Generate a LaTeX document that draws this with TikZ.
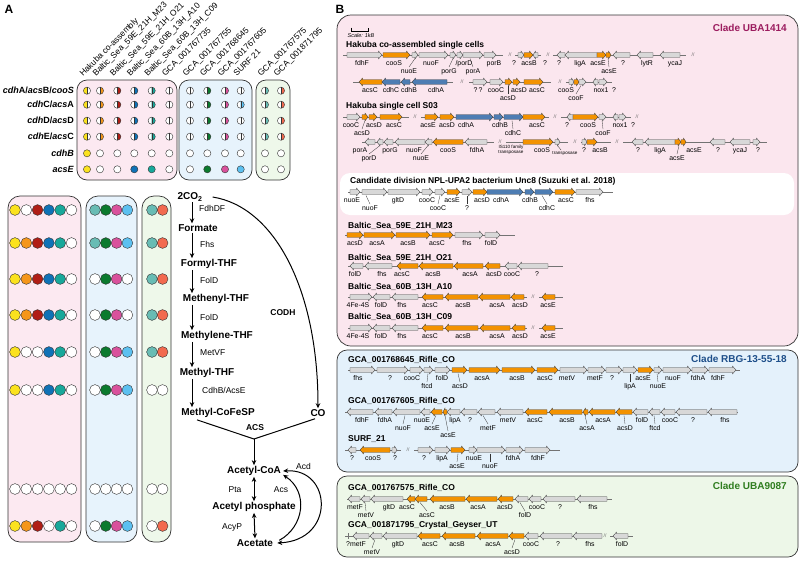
\documentclass[tikz,border=0pt]{standalone}
\usepackage{fontspec}
\setmainfont{Liberation Sans}
\usetikzlibrary{arrows.meta,calc}
\definecolor{cY}{HTML}{FBE21E}
\definecolor{cO}{HTML}{F5961A}
\definecolor{cR}{HTML}{B01E16}
\definecolor{cB}{HTML}{0F72B6}
\definecolor{cT}{HTML}{17A89A}
\definecolor{cG}{HTML}{0B7A2E}
\definecolor{cP}{HTML}{D9519C}
\definecolor{cLB}{HTML}{5CC0F0}
\definecolor{cMT}{HTML}{68BCB4}
\definecolor{cS}{HTML}{F26A4F}
\definecolor{W}{HTML}{FFFFFF}
\definecolor{gG}{HTML}{D8D8D8}
\definecolor{gO}{HTML}{F39200}
\definecolor{gB}{HTML}{4D7DB3}
\definecolor{pkA}{HTML}{FCE9F1}
\definecolor{blA}{HTML}{E7F3FC}
\definecolor{grA}{HTML}{EEF8EA}
\definecolor{pkB}{HTML}{FBE6EE}
\definecolor{blB}{HTML}{E4F1FB}
\definecolor{grB}{HTML}{EDF7E8}
\definecolor{clP}{HTML}{9B1B5E}
\definecolor{clB}{HTML}{1E4F8A}
\definecolor{clG}{HTML}{2F7D1F}
\newcounter{nn}
\def\TY{0}
\newcommand\geneR[3]{\pgfmathsetmacro\ghl{min(3.5,0.5*(#2-#1))}%
 \draw[gene,fill=#3] ({#1},{\TY-2.3}) -- ({#2-\ghl},{\TY-2.3}) -- ({#2-\ghl},{\TY-3.9}) -- ({#2},{\TY}) -- ({#2-\ghl},{\TY+3.9}) -- ({#2-\ghl},{\TY+2.3}) -- ({#1},{\TY+2.3}) -- cycle;}
\newcommand\geneL[3]{\pgfmathsetmacro\ghl{min(3.5,0.5*(#2-#1))}%
 \draw[gene,fill=#3] ({#2},{\TY-2.3}) -- ({#1+\ghl},{\TY-2.3}) -- ({#1+\ghl},{\TY-3.9}) -- ({#1},{\TY}) -- ({#1+\ghl},{\TY+3.9}) -- ({#1+\ghl},{\TY+2.3}) -- ({#2},{\TY+2.3}) -- cycle;}
\newcommand\bbone[2]{\draw[bbl] ({#1},{\TY}) -- ({#2},{\TY});}
\newcommand\gbrk[1]{\stepcounter{nn}\node[brk] (b\arabic{nn}) at ({#1},{\TY}) {//};}
\newcommand\Lab[3]{\stepcounter{nn}\node[glab] (g\arabic{nn}) at ({#1},{\TY+#2}) {#3};}
\newcommand\gla[2]{\Lab{#1}{10.5}{#2}}
\newcommand\glb[2]{\Lab{#1}{18}{#2}}
\newcommand\glbt[3]{\draw[tickl] ({#1},{\TY+3.5}) -- ({#2},{\TY+12});\Lab{#2}{18}{#3}}
\newcommand\hcirc[4]{%
 \begin{scope}\clip ({#1-4},{#2-4}) rectangle ({#1},{#2+4}); \fill[#3] ({#1},{#2}) circle[radius=3.6]; \end{scope}
 \begin{scope}\clip ({#1},{#2-4}) rectangle ({#1+4},{#2+4}); \fill[#4] ({#1},{#2}) circle[radius=3.6]; \end{scope}
 \draw[circ] ({#1},{#2}) circle[radius=3.6]; \draw[circ] ({#1},{#2-3.6}) -- ({#1},{#2+3.6});}
\newcommand\fcirc[4]{\draw[circ,fill=#3] ({#1},{#2}) circle[radius=#4];}
\newcommand\lrow[4]{%
 \foreach \c [count=\i] in {#2} {\fcirc{15+(\i-1)*11.3}{#1}{\c}{5.4}}
 \foreach \c [count=\i] in {#3} {\fcirc{95+(\i-1)*10.8}{#1}{\c}{5.4}}
 \foreach \c [count=\i] in {#4} {\fcirc{152+(\i-1)*10.6}{#1}{\c}{5.4}}}
\tikzset{
 gene/.style={draw=black!75,line width=0.35pt},
 bbl/.style={draw=black!55,line width=0.45pt},
 tickl/.style={draw=black!80,line width=0.3pt},
 glab/.style={font=\fontsize{6.9}{7.2}\selectfont,inner sep=0pt,anchor=base},
 ttl/.style={font=\bfseries\fontsize{8.5}{9}\selectfont,inner sep=0pt,anchor=base west},
 brk/.style={font=\fontsize{5}{5}\selectfont,text=black!60,inner sep=0pt},
 clbox/.style={draw=black!80,line width=0.7pt,rounded corners=10pt},
 clade/.style={font=\bfseries\fontsize{10}{11}\selectfont,inner sep=0pt,anchor=east},
 met/.style={font=\bfseries\fontsize{10}{11}\selectfont,inner sep=1pt},
 enz/.style={font=\fontsize{8.5}{9}\selectfont,inner sep=0pt,anchor=west},
 enzc/.style={font=\fontsize{8.5}{9}\selectfont,inner sep=0pt},
 parr/.style={line width=1pt,-{Stealth[length=5pt,width=4.5pt]}},
 parr2/.style={line width=1pt,{Stealth[length=5pt,width=4.5pt]}-{Stealth[length=5pt,width=4.5pt]}},
 circ/.style={draw=black!80,line width=0.4pt},
 rowl/.style={font=\bfseries\fontsize{9}{10}\selectfont,inner sep=0pt,anchor=east},
 coll/.style={font=\fontsize{8.4}{9}\selectfont,inner sep=0pt,anchor=base west,rotate=45},
 panel/.style={font=\bfseries\fontsize{12}{12}\selectfont,inner sep=0pt},
}
\begin{document}
\begin{tikzpicture}[x=1pt,y=-1pt]
\useasboundingbox (0,0) rectangle (800,560);
\fill[white] (0,0) rectangle (800,560);
\node[panel] (pA) at (9,9) {A};
\node[panel] (pB) at (340,9) {B};
% ---------- panel A, top matrix
\draw[clbox,fill=pkA] (77,80) rectangle (177,180);
\draw[clbox,fill=blA] (179,80) rectangle (252,180);
\draw[clbox,fill=grA] (256,80) rectangle (290,180);
\foreach \xx/\t [count=\k] in {87/Hakuba co-assembly,100/Baltic\_Sea\_59E\_21H\_M23,117.3/Baltic\_Sea\_59E\_21H\_O21,134.3/Baltic\_Sea\_60B\_13H\_A10,151.7/Baltic\_Sea\_60B\_13H\_C09,169.3/GCA\_001767735,190/GCA\_001767755,207.3/GCA\_001768645,225/GCA\_001767605,240.7/SURF 21,265/GCA\_001767575,281/GCA\_001871795}
  {\node[coll] (col\k) at ({\xx-4},77) {\t};}
\node[rowl] (r1) at (74,90.7) {\textit{cdh}A/\textit{acs}B/\textit{cooS}};
\node[rowl] (r2) at (74,104.7) {\textit{cdh}C/\textit{acs}A};
\node[rowl] (r3) at (74,120.7) {\textit{cdh}D/\textit{acs}D};
\node[rowl] (r4) at (74,136.7) {\textit{cdh}E/\textit{acs}C};
\node[rowl] (r5) at (74,153.3) {\textit{cdhB}};
\node[rowl] (r6) at (74,169.3) {\textit{acsE}};
\foreach \yy [count=\k] in {90.7,104.7,120.7,136.7} {
 \hcirc{87}{\yy}{cY}{W} \hcirc{100}{\yy}{W}{cO} \hcirc{117.3}{\yy}{W}{cR}
 \hcirc{134.3}{\yy}{W}{cB} \hcirc{151.7}{\yy}{W}{cT} \hcirc{169.3}{\yy}{W}{W}
 \hcirc{190}{\yy}{W}{W} \hcirc{207.3}{\yy}{W}{cG} \hcirc{225}{\yy}{W}{cP}
 \hcirc{265}{\yy}{W}{cMT} \hcirc{281}{\yy}{W}{cS}
 \ifnum\k=2 \hcirc{240.7}{\yy}{W}{cLB} \else \hcirc{240.7}{\yy}{W}{W} \fi}
\foreach \xx/\c in {87/cY,100/W,117.3/W,134.3/W,151.7/W,169.3/W,190/W,207.3/W,225/W,240.7/W,265/W,281/W} {\fcirc{\xx}{153.3}{\c}{3.6}}
\foreach \xx/\c in {87/cY,100/W,117.3/W,134.3/cB,151.7/cT,169.3/W,190/W,207.3/cG,225/cP,240.7/cLB,265/W,281/W} {\fcirc{\xx}{169.3}{\c}{3.6}}
% ---------- panel A, lower matrix
\draw[clbox,fill=pkA,rounded corners=12pt] (8,196) rectangle (81,542);
\draw[clbox,fill=blA,rounded corners=12pt] (86,196) rectangle (137,542);
\draw[clbox,fill=grA,rounded corners=12pt] (142,196) rectangle (171,542);
\lrow{210}{cY,W,cR,cB,cT,W}{cMT,cG,cP,cLB}{cMT,cS}
\lrow{243}{cY,cO,cR,cB,cT,W}{cMT,cG,cP,cLB}{cMT,cS}
\lrow{279}{cY,cO,cR,cB,cT,W}{W,cG,cP,W}{cMT,cS}
\lrow{315}{cY,cO,cR,cB,cT,W}{W,cG,cP,W}{cMT,cS}
\lrow{352}{cY,W,W,cB,cT,W}{W,cG,cP,cLB}{cMT,cS}
\lrow{390}{cY,W,W,cB,cT,W}{W,cG,cP,cLB}{W,W}
\lrow{489}{W,W,W,W,W,W}{W,W,W,W}{W,W}
\lrow{526}{cY,cO,cR,W,cT,W}{W,cG,cP,cLB}{W,cS}
% ---------- pathway
\node[met] (co2) at (190,197) {2CO\textsubscript{2}};
\node[met] (formate) at (198,228) {Formate};
\node[met] (formyl) at (209,264) {Formyl-THF};
\node[met] (methenyl) at (216,299) {Methenyl-THF};
\node[met] (methylene) at (217,336) {Methylene-THF};
\node[met] (methyl) at (207,373) {Methyl-THF};
\node[met] (mcofesp) at (218,413) {Methyl-CoFeSP};
\node[met] (co) at (318,413) {CO};
\node[met] (acoa) at (254,471) {Acetyl-CoA};
\node[met] (ap) at (254,507) {Acetyl phosphate};
\node[met] (acet) at (255,543) {Acetate};
\coordinate (ax) at (192,0);
\draw[parr] (co2.south -| ax) -- (formate.north -| ax);
\draw[parr] (formate.south -| ax) -- (formyl.north -| ax);
\draw[parr] (formyl.south -| ax) -- (methenyl.north -| ax);
\draw[parr] (methenyl.south -| ax) -- (methylene.north -| ax);
\draw[parr] (methylene.south -| ax) -- (methyl.north -| ax);
\draw[parr] (methyl.south -| ax) -- (mcofesp.north -| ax);
\node[enz] (e1) at (199,208) {FdhDF};
\node[enz] (e2) at (200,244) {Fhs};
\node[enz] (e3) at (200,280) {FolD};
\node[enz] (e4) at (200,317) {FolD};
\node[enz] (e5) at (200,353) {MetVF};
\node[enz] (e6) at (202,390) {CdhB/AcsE};
\draw[parr] ([xshift=9pt]co2.east) .. controls (275,207) and (318,290) .. (co.north);
\node[font=\bfseries\fontsize{8.5}{9}\selectfont,inner sep=0pt] (codh) at (283,313) {CODH};
\coordinate (acsj) at (254,439);
\draw[line width=1pt] ([xshift=-21pt,yshift=-1pt]mcofesp.south) -- (acsj) -- ([xshift=-3pt,yshift=-1pt]co.south);
\node[font=\bfseries\fontsize{8.5}{9}\selectfont,inner sep=0pt] (acsl) at (255,428) {ACS};
\draw[parr] (acsj) -- (acoa.north);
\draw[parr2] (acoa.south) -- (ap.north);
\draw[parr2] (ap.south) -- (acet.north);
\node[enzc] (pta) at (235,490) {Pta};
\node[enzc] (acyp) at (232,527) {AcyP};
\draw[parr2] ([xshift=1pt]acoa.east) .. controls (332,468) and (336,540) .. ([xshift=3pt]acet.east);
\draw[parr] ([xshift=5pt,yshift=-2pt]acet.north east) .. controls (304,527) and (309,492) .. ([xshift=1pt,yshift=2pt]acoa.south east);
\node[enz] (acd) at (296,466) {Acd};
\node[enzc] (acs) at (281,490) {Acs};
% ---------- panel B boxes
\draw[clbox,fill=pkB,rounded corners=14pt] (337,15) rectangle (798,346);
\fill[white,rounded corners=10pt] (340,173) rectangle (794,215);
\draw[clbox,fill=blB] (337,350) rectangle (798,472);
\draw[clbox,fill=grB] (337,476) rectangle (798,557);
\node[clade,text=clP] (cl1) at (787,28) {Clade UBA1414};
\node[clade,text=clB] (cl2) at (787,359) {Clade RBG-13-55-18};
\node[clade,text=clG] (cl3) at (787,486) {Clade UBA9087};
\draw[line width=0.5pt] (351,27.5) -- (351,31) -- (368,31) -- (368,27.5);
\node[font=\itshape\fontsize{5.5}{6}\selectfont,inner sep=0pt] (scale) at (361,35.5) {Scale: 1kB};
% titles
\node[ttl] (t1) at (346,47) {Hakuba co-assembled single cells};
\node[ttl] (t3) at (346,108) {Hakuba single cell S03};
\node[ttl] (t5) at (350,183) {Candidate division NPL-UPA2 bacterium Unc8 (Suzuki et al. 2018)};
\node[ttl] (t6) at (348,228) {Baltic\_Sea\_59E\_21H\_M23};
\node[ttl] (t7) at (348,260) {Baltic\_Sea\_59E\_21H\_O21};
\node[ttl] (t8) at (348,289) {Baltic\_Sea\_60B\_13H\_A10};
\node[ttl] (t9) at (348,319) {Baltic\_Sea\_60B\_13H\_C09};
\node[ttl] (t10) at (348,362) {GCA\_001768645\_Rifle\_CO};
\node[ttl] (t11) at (348,403) {GCA\_001767605\_Rifle\_CO};
\node[ttl] (t12) at (348,441) {SURF\_21};
\node[ttl] (t13) at (348,490) {GCA\_001767575\_Rifle\_CO};
\node[ttl] (t14) at (348,527) {GCA\_001871795\_Crystal\_Geyser\_UT};
% ---------- T1
\def\TY{55}
\bbone{343}{503}\gbrk{510}\bbone{515}{541}\gbrk{548}\bbone{553}{686}\gbrk{693}
\geneR{347}{382}{gG}\gla{362}{fdhF}
\geneR{383}{410}{gO}\gla{394}{cooS}
\geneR{412}{418}{gG}\glbt{415}{409}{nuoE}
\geneR{419}{448}{gG}\gla{431}{nuoF}
\geneR{450}{456}{gG}\glbt{453}{449}{porG}
\geneR{457}{463}{gG}\gla{464}{/porD}
\geneR{463}{483}{gG}\glbt{470}{473}{porA}
\geneR{484}{496}{gG}\gla{494}{porB}
\geneR{518}{524}{gG}\gla{514}{?}
\geneR{524}{533}{gO}\gla{529}{acsB}
\geneL{533}{538}{gG}\gla{545}{?}
\geneL{557}{565}{gG}\gla{559}{?}
\geneL{565}{597}{gG}\gla{580}{ligA}
\geneR{597}{606}{gO}\geneR{606}{611}{gO}\gla{598}{acsE}\glbt{608}{609}{acsE}
\geneL{613}{630}{gG}\gla{623}{?}
\geneL{637}{653}{gG}\gla{647}{lytR}
\geneL{660}{680}{gG}\gla{675}{ycaJ}
% ---------- T2
\def\TY{82}
\bbone{353}{453}\gbrk{462}\bbone{469}{551}\gbrk{560}\bbone{566}{612}
\geneL{359}{382}{gO}\gla{370}{acsC}
\geneL{382}{400}{gB}\gla{391}{cdhC}
\geneL{401}{410}{gB}\gla{409}{cdhB}
\geneL{412}{447}{gB}\gla{436}{cdhA}
\geneR{473}{487}{gG}\gla{478}{?\,?}
\geneR{490}{503}{gG}\gla{496}{cooC}
\geneR{505}{512}{gO}\glbt{508}{508}{acsD}
\geneR{513}{520}{gO}\gla{519}{acsD}
\geneR{524}{543}{gO}\gla{537}{acsC}
\geneR{569}{574}{gG}\geneR{574}{579}{gO}\geneR{579}{586}{gG}
\gla{566}{cooS}\glbt{581}{576}{cooF}
\geneL{593}{598}{gG}\geneR{599}{607}{gG}\gla{601}{nox1}\gla{614}{?}
% ---------- T3
\def\TY{117}
\bbone{343}{409}\gbrk{415}\bbone{421}{549}\gbrk{555}\bbone{561}{631}\gbrk{637}
\geneR{347}{360}{gG}\gla{351}{cooC}
\geneR{362}{368}{gO}\glbt{365}{362}{acsD}
\geneR{369}{377}{gO}\gla{374}{acsD}
\geneR{380}{402}{gO}\gla{394}{acsC}
\geneR{425}{438}{gO}\gla{428}{acsE}
\geneR{440}{454}{gO}\gla{447}{acsD}
\geneR{456}{493}{gB}\gla{466}{cdhA}
\geneR{494}{503}{gB}\gla{500}{cdhB}
\geneR{504}{523}{gB}\glbt{512}{513}{cdhC}
\geneR{523}{545}{gO}\gla{537}{acsC}
\geneL{567}{573}{gG}\gla{567}{?}
\geneR{573}{598}{gO}\gla{588}{cooS}
\geneR{599}{606}{gG}\glbt{602}{603}{cooF}
\geneL{613}{618}{gG}\geneR{619}{626}{gG}\gla{620}{nox1}\gla{633}{?}
% ---------- T4
\def\TY{142}
\bbone{362}{494}\gbrk{500}\bbone{506}{568}\gbrk{575}\bbone{581}{611}\gbrk{617}\bbone{623}{767}
\geneL{365}{375}{gG}\gla{360}{porA}
\geneL{377}{383}{gG}\glbt{380}{369}{porD}
\geneL{384}{393}{gG}\gla{390}{porG}
\geneL{395}{425}{gG}\gla{414}{nuoF}
\geneL{425}{432}{gG}\glbt{428}{421}{nuoE}
\geneL{433}{463}{gO}\gla{448}{cooS}
\geneL{465}{487}{gG}\gla{477}{fdhA}
\node[font=\fontsize{4.6}{5}\selectfont,align=center,inner sep=0pt] (is1) at (511,150) {IS110 family\\transposase};
\geneR{523}{553}{gO}\gla{542}{cooS}
\geneR{555}{560}{gG}\draw[tickl] (557.5,145.5) -- (561,150);
\node[font=\fontsize{4.6}{5}\selectfont,inner sep=0pt] (is2) at (565,153) {transposase};
\geneR{582}{587}{gG}\geneR{587}{597}{gO}\gla{584}{?}\gla{600}{acsB}
\geneL{632}{643}{gG}\gla{638}{?}
\geneL{645}{675}{gG}\gla{660}{ligA}
\geneR{675}{681}{gO}\geneR{681}{686}{gO}\glbt{679}{677}{acsE}\gla{694}{acsE}
\geneL{710}{725}{gG}\gla{718}{?}
\geneL{730}{750}{gG}\gla{740}{ycaJ}
\geneR{753}{760}{gG}\gla{758}{?}
% ---------- T5
\def\TY{192}
\bbone{348}{613}
\geneR{350}{360}{gG}\gla{352}{nuoE}
\geneR{362}{387}{gG}\glbt{366}{370}{nuoF}
\geneR{388}{420}{gG}\gla{398}{gltD}
\geneR{422}{433}{gG}\gla{427}{cooC}
\geneR{435}{445}{gG}\glbt{440}{438}{cooC}
\geneR{447}{460}{gO}\gla{452}{acsE}
\geneR{462}{472}{gG}\glbt{467}{467}{?}
\geneR{473}{487}{gO}\gla{482}{acsD}
\geneR{487}{523}{gB}\gla{501}{cdhA}
\geneR{525}{534}{gB}\gla{530}{cdhB}
\geneR{535}{553}{gB}\glbt{542}{547}{cdhC}
\geneR{555}{575}{gO}\gla{566}{acsC}
\geneR{576}{603}{gG}\gla{590}{fhs}
% ---------- T6
\def\TY{235}
\bbone{345}{515}
\geneR{347}{363}{gO}\gla{355}{acsD}
\geneR{364}{395}{gO}\gla{377}{acsA}
\geneR{396}{430}{gO}\gla{408}{acsB}
\geneR{432}{453}{gO}\gla{437}{acsC}
\geneR{455}{483}{gG}\gla{467}{fhs}
\geneR{485}{500}{gG}\gla{491}{folD}
% ---------- T7
\def\TY{266}
\bbone{348}{563}
\geneL{350}{363}{gG}\gla{355}{folD}
\geneL{365}{392}{gG}\gla{382}{fhs}
\geneL{397}{418}{gO}\gla{402}{acsC}
\geneL{419}{453}{gO}\gla{433}{acsB}
\geneL{454}{483}{gO}\gla{470}{acsA}
\geneL{485}{500}{gO}\gla{494}{acsD}
\geneL{505}{517}{gG}\gla{512}{cooC}
\geneL{518}{548}{gG}\gla{537}{?}
% ---------- T8
\def\TY{297}
\bbone{348}{527}\gbrk{533}\bbone{539}{563}
\geneR{350}{372}{gG}\gla{358}{4Fe-4S}
\geneL{373}{390}{gG}\gla{381}{folD}
\geneL{392}{418}{gG}\gla{402}{fhs}
\geneL{422}{443}{gO}\gla{430}{acsC}
\geneL{445}{478}{gO}\gla{463}{acsB}
\geneL{479}{510}{gO}\gla{497}{acsA}
\geneL{511}{524}{gO}\gla{520}{acsD}
\geneL{542}{555}{gO}\gla{548}{acsE}
% ---------- T9
\def\TY{328}
\bbone{348}{527}\gbrk{533}\bbone{539}{563}
\geneR{350}{372}{gG}\gla{358}{4Fe-4S}
\geneL{373}{390}{gG}\gla{381}{folD}
\geneL{392}{418}{gG}\gla{402}{fhs}
\geneL{422}{443}{gO}\gla{430}{acsC}
\geneL{445}{478}{gO}\gla{463}{acsB}
\geneL{480}{510}{gO}\gla{497}{acsA}
\geneL{512}{525}{gO}\gla{520}{acsD}
\geneL{542}{555}{gO}\gla{548}{acsE}
% ---------- T10
\def\TY{370}
\bbone{348}{740}
\geneR{350}{375}{gG}\gla{358}{fhs}
\geneR{377}{408}{gG}\gla{390}{?}
\geneR{410}{423}{gG}\gla{412}{cooC}
\geneR{424}{433}{gG}\glbt{428}{427}{ftcd}
\geneR{435}{450}{gG}\gla{442}{folD}
\geneR{452}{467}{gO}\glbt{458}{460}{acsD}
\geneR{469}{500}{gO}\gla{482}{acsA}
\geneR{502}{535}{gO}\gla{517}{acsB}
\geneR{537}{558}{gO}\gla{545}{acsC}
\geneR{560}{587}{gG}\gla{567}{metV}
\geneR{588}{605}{gG}\gla{595}{metF}
\geneR{606}{622}{gG}\gla{612}{?}
\geneR{623}{637}{gG}\glbt{630}{630}{lipA}
\geneR{638}{653}{gO}\gla{643}{acsE}
\geneR{654}{662}{gG}\glbt{657}{658}{nuoE}
\geneR{663}{691}{gG}\gla{673}{nuoF}
\geneR{692}{708}{gG}\gla{698}{fdhA}
\geneR{709}{736}{gG}\gla{718}{fdhF}
% ---------- T11
\def\TY{412}
\bbone{345}{738}
\geneL{347}{373}{gG}\gla{362}{fdhF}
\geneL{375}{392}{gG}\gla{385}{fdhA}
\geneL{393}{420}{gG}\glbt{405}{403}{nuoF}
\geneL{421}{430}{gG}\gla{422}{nuoE}
\geneL{431}{442}{gO}\geneL{443}{447}{gO}\glbt{436}{432}{acsE}
\draw[tickl] (445,415.5) -- (448,431);\Lab{448}{25.5}{acsE}
\geneL{447}{460}{gG}\gla{455}{lipA}
\geneL{461}{477}{gG}\gla{470}{?}
\geneL{478}{495}{gG}\glbt{483}{488}{metF}
\geneL{497}{523}{gG}\gla{508}{metV}
\geneL{525}{547}{gO}\gla{535}{acsC}
\geneL{549}{582}{gO}\gla{567}{acsB}
\geneL{583}{588}{gO}\glbt{585}{587}{acsA}
\geneL{589}{615}{gO}\gla{603}{acsA}
\geneL{616}{632}{gO}\glbt{624}{625}{acsD}
\geneL{633}{648}{gG}\gla{642}{folD}
\geneL{649}{660}{gG}\glbt{654}{655}{ftcd}
\geneL{661}{675}{gG}\gla{670}{cooC}
\geneL{676}{707}{gG}\gla{693}{?}
\geneL{708}{737}{gG}\gla{725}{fhs}
% ---------- T12
\def\TY{450}
\bbone{345}{401}\gbrk{408}\bbone{414}{560}
\geneL{348}{356}{gG}\gla{352}{?}
\geneL{360}{390}{gO}\gla{373}{cooS}
\geneR{392}{397}{gG}\gla{395}{?}
\geneR{418}{433}{gG}\gla{424}{?}
\geneR{435}{450}{gG}\gla{442}{lipA}
\geneR{451}{465}{gO}\glbt{458}{457}{acsE}
\geneR{469}{477}{gG}\gla{474}{nuoE}
\geneR{477}{505}{gG}\glbt{490}{490}{nuoF}
\geneR{506}{523}{gG}\gla{513}{fdhA}
\geneR{525}{550}{gG}\gla{538}{fdhF}
% ---------- T13
\def\TY{499}
\bbone{347}{612}
\geneL{348}{360}{gG}\gla{355}{metF}
\geneL{361}{370}{gG}\glbt{365}{366}{metV}
\geneL{371}{403}{gG}\gla{389}{gltD}
\geneL{407}{415}{gO}\gla{407}{acsC}
\geneL{415}{427}{gO}\glbt{420}{427}{acsC}
\geneL{430}{465}{gO}\gla{447}{acsB}
\geneL{466}{497}{gO}\gla{478}{acsA}
\geneL{498}{513}{gO}\gla{505}{acsD}
\geneL{515}{528}{gG}\glbt{520}{525}{folD}
\geneL{529}{541}{gG}\gla{537}{cooC}
\geneL{543}{575}{gG}\gla{560}{?}
\geneL{577}{607}{gG}\gla{593}{fhs}
% ---------- T14
\def\TY{536}
\bbone{345}{600}\gbrk{605}\bbone{610}{633}
\draw[bbl] (348,533) -- (348,539);
\geneL{353}{369}{gG}\gla{356}{?metF}
\geneL{370}{382}{gG}\glbt{375}{372}{metV}
\geneL{383}{417}{gG}\gla{398}{gltD}
\geneL{418}{440}{gO}\gla{430}{acsC}
\geneL{442}{475}{gO}\gla{457}{acsB}
\geneL{477}{508}{gO}\gla{493}{acsA}
\geneL{509}{524}{gO}\glbt{515}{512}{acsD}
\geneL{525}{538}{gG}\gla{531}{cooC}
\geneL{540}{572}{gG}\gla{558}{?}
\geneL{573}{602}{gG}\gla{590}{fhs}
\geneL{613}{628}{gG}\gla{622}{folD}
\end{tikzpicture}
\end{document}
